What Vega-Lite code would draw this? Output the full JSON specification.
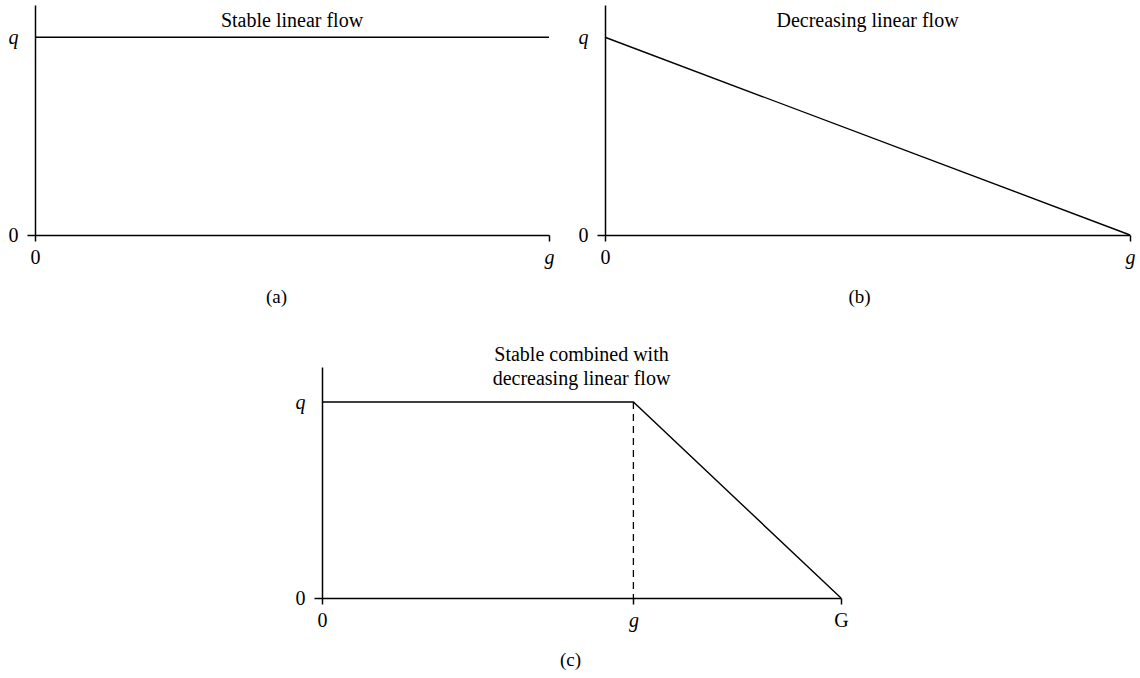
{
  "$schema": "https://vega.github.io/schema/vega-lite/v6.json",
  "padding": {"left": 8, "top": 5, "right": 5, "bottom": 5},
  "bounds": "flush",
  "spacing": 362,
  "config": {
    "view": {"stroke": null},
    "font": "Liberation Serif",
    "axis": {
      "grid": false,
      "labelFlush": false,
      "domainColor": "#000",
      "domainWidth": 1.5,
      "tickColor": "#000",
      "tickWidth": 1.5,
      "labelColor": "#000",
      "labelFont": "Liberation Serif",
      "labelFontSize": 20,
      "titleFont": "Liberation Serif",
      "titleFontSize": 19,
      "titleFontWeight": "normal",
      "titleColor": "#000"
    },
    "title": {"font": "Liberation Serif", "fontSize": 20, "fontWeight": "normal", "color": "#000", "anchor": "middle"}
  },
  "datasets": {
    "stable": [{"g": 0, "q": 1}, {"g": 1, "q": 1}],
    "decreasing": [{"g": 0, "q": 1}, {"g": 1, "q": 0}],
    "combined": [{"g": 0, "q": 1}, {"g": 0.6, "q": 1}, {"g": 1, "q": 0}],
    "breakpoint": [{"g": 0.6, "q": 1}],
    "blank": [{"v": 0}]
  },
  "vconcat": [
    {
      "bounds": "flush",
      "spacing": 56,
      "hconcat": [
        {
          "width": 514,
          "height": 230,
          "title": {"text": "Stable linear flow", "offset": -42, "baseline": "alphabetic"},
          "data": {"name": "stable"},
          "mark": {"type": "line", "color": "#000", "strokeWidth": 1.4},
          "encoding": {
            "x": {
              "field": "g", "type": "quantitative",
              "scale": {"domain": [0, 1], "nice": false, "zero": false},
              "axis": {
                "values": [0, 1],
                "labelExpr": "datum.value == 0 ? '0' : 'g'",
                "labelFontStyle": {"condition": {"test": "datum.value > 0", "value": "italic"}, "value": "normal"},
                "tickSize": 6, "labelPadding": 6,
                "title": "(a)", "titlePadding": 20, "titleX": 241
              }
            },
            "y": {
              "field": "q", "type": "quantitative",
              "scale": {"domain": [0, 1.163], "nice": false},
              "axis": {
                "values": [0, 1],
                "labelExpr": "datum.value == 0 ? '0' : 'q'",
                "labelFontStyle": {"condition": {"test": "datum.value > 0", "value": "italic"}, "value": "normal"},
                "tickSize": 8,
                "tickOpacity": {"condition": {"test": "datum.value > 0", "value": 0}, "value": 1},
                "labelPadding": 9, "title": null
              }
            }
          }
        },
        {
          "width": 525,
          "height": 230,
          "title": {"text": "Decreasing linear flow", "offset": -42, "baseline": "alphabetic"},
          "data": {"name": "decreasing"},
          "mark": {"type": "line", "color": "#000", "strokeWidth": 1.4},
          "encoding": {
            "x": {
              "field": "g", "type": "quantitative",
              "scale": {"domain": [0, 1], "nice": false, "zero": false},
              "axis": {
                "values": [0, 1],
                "labelExpr": "datum.value == 0 ? '0' : 'g'",
                "labelFontStyle": {"condition": {"test": "datum.value > 0", "value": "italic"}, "value": "normal"},
                "tickSize": 6, "labelPadding": 6,
                "title": "(b)", "titlePadding": 20, "titleX": 254
              }
            },
            "y": {
              "field": "q", "type": "quantitative",
              "scale": {"domain": [0, 1.163], "nice": false},
              "axis": {
                "values": [0, 1],
                "labelExpr": "datum.value == 0 ? '0' : 'q'",
                "labelFontStyle": {"condition": {"test": "datum.value > 0", "value": "italic"}, "value": "normal"},
                "tickSize": 8,
                "tickOpacity": {"condition": {"test": "datum.value > 0", "value": 0}, "value": 1},
                "labelPadding": 9, "title": null
              }
            }
          }
        }
      ]
    },
    {
      "bounds": "flush",
      "spacing": 286,
      "hconcat": [
        {
          "width": 1,
          "height": 1,
          "data": {"name": "blank"},
          "mark": {"type": "point", "opacity": 0},
          "encoding": {}
        },
        {
          "width": 519,
          "height": 231,
          "title": {"text": ["Stable combined with", "decreasing linear flow"], "offset": -38, "baseline": "alphabetic", "lineHeight": 24},
          "layer": [
            {
              "data": {"name": "combined"},
              "mark": {"type": "line", "color": "#000", "strokeWidth": 1.4},
              "encoding": {
                "x": {
                  "field": "g", "type": "quantitative",
                  "scale": {"domain": [0, 1], "nice": false, "zero": false},
                  "axis": {
                    "values": [0, 0.6, 1],
                    "labelExpr": "datum.value == 0 ? '0' : (datum.value < 1 ? 'g' : 'G')",
                    "labelFontStyle": {"condition": {"test": "datum.value > 0 && datum.value < 1", "value": "italic"}, "value": "normal"},
                    "tickSize": 6, "labelPadding": 6,
                    "title": "(c)", "titlePadding": 20, "titleX": 248
                  }
                },
                "y": {
                  "field": "q", "type": "quantitative",
                  "scale": {"domain": [0, 1.179], "nice": false},
                  "axis": {
                    "values": [0, 1],
                    "labelExpr": "datum.value == 0 ? '0' : 'q'",
                    "labelFontStyle": {"condition": {"test": "datum.value > 0", "value": "italic"}, "value": "normal"},
                    "tickSize": 8,
                    "tickOpacity": {"condition": {"test": "datum.value > 0", "value": 0}, "value": 1},
                    "labelPadding": 9, "title": null
                  }
                }
              }
            },
            {
              "data": {"name": "breakpoint"},
              "mark": {"type": "rule", "color": "#000", "strokeWidth": 1.3, "strokeDash": [7, 5]},
              "encoding": {
                "x": {"field": "g", "type": "quantitative"},
                "y": {"field": "q", "type": "quantitative"},
                "y2": {"datum": 0}
              }
            }
          ]
        }
      ]
    }
  ]
}
